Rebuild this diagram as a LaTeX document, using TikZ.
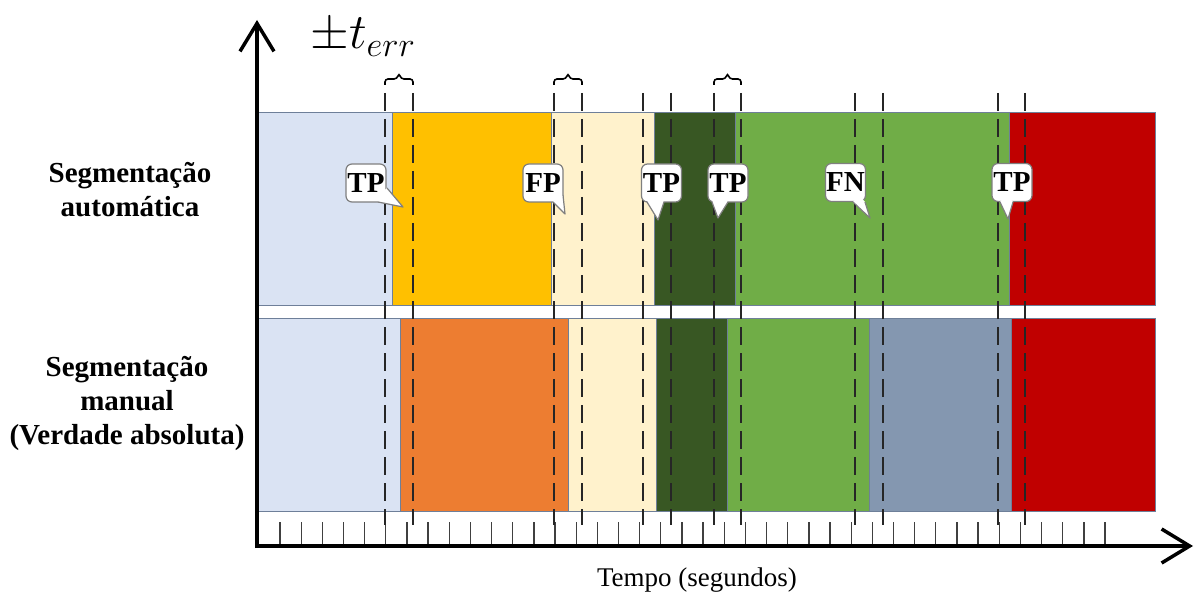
\documentclass[tikz,border=0pt]{standalone}
\usepackage{fontspec}
\setmainfont{Liberation Serif}
\usetikzlibrary{arrows.meta}

\definecolor{segblue}{HTML}{DAE3F3}
\definecolor{seggold}{HTML}{FFC000}
\definecolor{segorange}{HTML}{ED7D31}
\definecolor{segcream}{HTML}{FFF2CC}
\definecolor{segdark}{HTML}{385723}
\definecolor{seggreen}{HTML}{70AD47}
\definecolor{segslate}{HTML}{8497B0}
\definecolor{segred}{HTML}{C00000}
\definecolor{segedge}{HTML}{6E7F99}
\definecolor{calloutedge}{HTML}{7F7F7F}

% white wedge of a speech-bubble: #1 and #3 lie on the box border, #2 is the tip,
% #4 is a point inside the box so the border under the wedge is hidden
\newcommand\calloutTail[4]{%
  \fill[white] #1 -- #2 -- #3 -- #4 -- cycle;
  \draw[calloutline] #1 -- #2 -- #3;}

\begin{document}
\begin{tikzpicture}[x=0.5pt,y=-0.5pt,
  seg/.style={draw=segedge,line width=0.4pt},
  tickmark/.style={draw=black!75,line width=0.65pt},
  tolerance/.style={draw=black!85,line width=1pt,dash pattern=on 9pt off 4pt},
  axisline/.style={line width=1.75pt,-{Straight Barb[length=14pt,width=17pt]}},
  bracket/.style={line width=0.8pt,rounded corners=1.5pt},
  calloutline/.style={draw=calloutedge,line width=0.6pt,line join=round},
  callbox/.style={draw=calloutedge,fill=white,line width=0.6pt,rounded corners=3pt,
    minimum width=20pt,minimum height=19pt,inner sep=0pt,
    font=\bfseries\fontsize{14.5}{17}\selectfont},
  rowlabel/.style={align=center,font=\bfseries\fontsize{14.5}{17}\selectfont},
  axislabel/.style={font=\fontsize{13.5}{16}\selectfont}]

\useasboundingbox (0,0) rectangle (1195,599);

% automatic segmentation row
\fill[segblue,seg]   (258,112) rectangle (392,305);
\fill[seggold,seg]   (392,112) rectangle (551,305);
\fill[segcream,seg]  (551,112) rectangle (654,305);
\fill[segdark,seg]   (654,112) rectangle (735,305);
\fill[seggreen,seg]  (735,112) rectangle (1009,305);
\fill[segred,seg]    (1009,112) rectangle (1155,305);

% manual segmentation row (ground truth)
\fill[segblue,seg]   (258,318) rectangle (400,511);
\fill[segorange,seg] (400,318) rectangle (568,511);
\fill[segcream,seg]  (568,318) rectangle (656,511);
\fill[segdark,seg]   (656,318) rectangle (727,511);
\fill[seggreen,seg]  (727,318) rectangle (869,511);
\fill[segslate,seg]  (869,318) rectangle (1011,511);
\fill[segred,seg]    (1011,318) rectangle (1155,511);

% time ticks
\foreach \k in {0,...,39}
  \draw[tickmark] ({280+21.154*\k},522) -- ({280+21.154*\k},546);

% tolerance window boundaries
\foreach \x in {385,413,554,582,643,671,714,741,855,883,998,1025} {
  \coordinate (top\x) at (\x,93);
  \coordinate (bot\x) at (\x,525);
  \draw[tolerance] (top\x) -- (bot\x);
}

% tolerance brackets
\draw[bracket] (385,85) -- (385,79) -- (397,79) -- (399,73) -- (401,79) -- (413,79) -- (413,85);
\draw[bracket] (554,85) -- (554,79) -- (566,79) -- (568,73) -- (570,79) -- (582,79) -- (582,85);
\draw[bracket] (714,85) -- (714,79) -- (725.5,79) -- (727.5,73) -- (729.5,79) -- (741,79) -- (741,85);
\node[anchor=base west,inner sep=0pt,font=\fontsize{27}{32}\selectfont] (terr) at (310,49) {$\pm t_{err}$};

% axes
\coordinate (origin) at (257,546);
\coordinate (corner) at (257,548);
\coordinate (ytip) at (257,20);
\coordinate (xtip) at (1193,546);
\draw[axisline] (corner) -- (ytip);
\draw[axisline] (origin) -- (xtip);

% outcome callouts
\node[callbox] (c1) at (366,183)    {TP};
\calloutTail{(387,188)}{(403,207)}{(378,202)}{(381,193)}
\node[callbox] (c2) at (543,183)    {FP};
\calloutTail{(563,195)}{(565,214)}{(553,202)}{(557,196)}
\node[callbox] (c3) at (661.5,183)  {TP};
\calloutTail{(647,202)}{(658,220)}{(664,202)}{(656,195)}
\node[callbox] (c4) at (728,183)    {TP};
\calloutTail{(712,202)}{(718,218)}{(728,202)}{(720,195)}
\node[callbox] (c5) at (845.5,182.5) {FN};
\calloutTail{(853,202)}{(870,218)}{(865,202)}{(859,195)}
\node[callbox] (c6) at (1012,182.5) {TP};
\calloutTail{(1000,202)}{(1008,219)}{(1013,202)}{(1006,195)}

% row and axis labels
\node[rowlabel] (auto) at (130,190) {Segmenta\c{c}\~ao\\autom\'atica};
\node[rowlabel] (manual) at (127,403) {Segmenta\c{c}\~ao\\manual\\(Verdade absoluta)};
\node[axislabel] (tempo) at (697,580) {Tempo (segundos)};

\end{tikzpicture}
\end{document}
